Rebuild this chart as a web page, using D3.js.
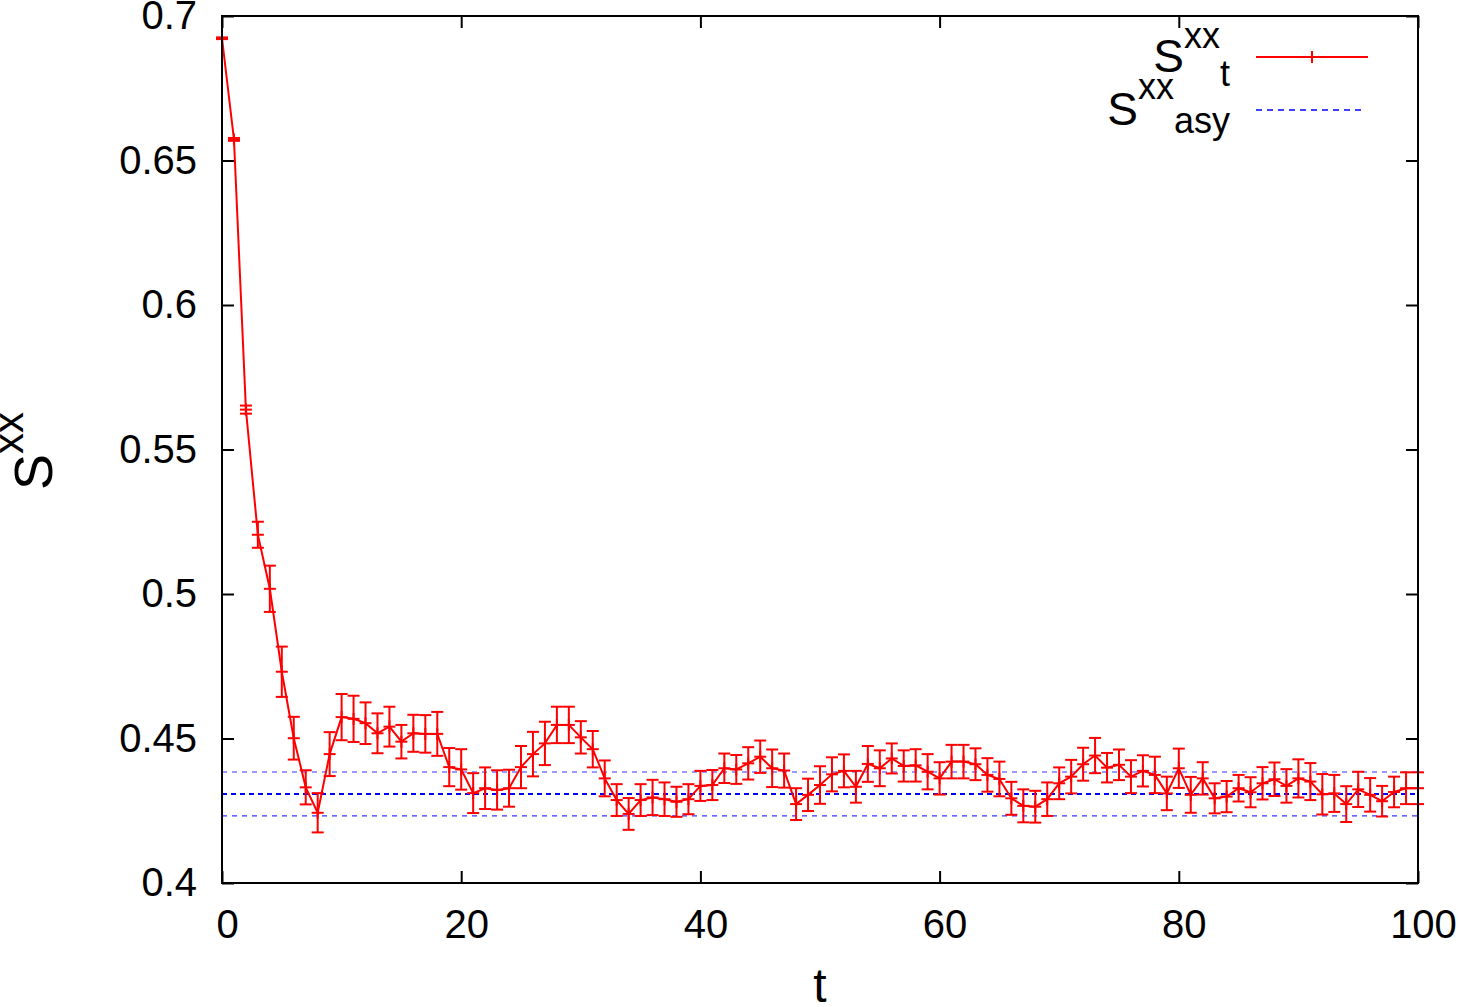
<!DOCTYPE html>
<html>
<head>
<meta charset="utf-8">
<script src="https://d3js.org/d3.v7.min.js"></script>
<style>
  body { margin: 0; background: #fff; }
  svg { display: block; font-family: "Liberation Sans", Arial, Helvetica, sans-serif; }
</style>
</head>
<body>
<script>
// S^xx_t values, t = 0..100
var tValues = d3.range(0, 101);
var sValues = [
  0.6923, 0.6573, 0.5638, 0.5205, 0.5018, 0.4731, 0.4501, 0.4331, 0.4243, 0.4446,
  0.4574, 0.4568, 0.4553, 0.4518, 0.4541, 0.4489, 0.4518, 0.4516, 0.4516, 0.4401,
  0.4393, 0.4311, 0.4328, 0.4322, 0.4328, 0.4401, 0.4446, 0.4483, 0.4547, 0.4547,
  0.4504, 0.4463, 0.4362, 0.4287, 0.4239, 0.4287, 0.4296, 0.4290, 0.4281, 0.4290,
  0.4336, 0.4339, 0.4397, 0.4393, 0.4414, 0.4437, 0.4397, 0.4389, 0.4273, 0.4305,
  0.4339, 0.4376, 0.4388, 0.4333, 0.4412, 0.4397, 0.4431, 0.4405, 0.4407, 0.4385,
  0.4362, 0.4420, 0.4420, 0.4411, 0.4374, 0.4360, 0.4293, 0.4267, 0.4264, 0.4290,
  0.4345, 0.4368, 0.4411, 0.4441, 0.4399, 0.4409, 0.4368, 0.4388, 0.4374, 0.4310,
  0.4397, 0.4305, 0.4362, 0.4293, 0.4299, 0.4328, 0.4314, 0.4345, 0.4359, 0.4336,
  0.4362, 0.4351, 0.4307, 0.4310, 0.4273, 0.4324, 0.4305, 0.4283, 0.4315, 0.4328,
  0.4328
];
var sErrors = [
  0.0003, 0.0005, 0.0014, 0.0045, 0.0080, 0.0087, 0.0074, 0.0059, 0.0068, 0.0076,
  0.0080, 0.0080, 0.0072, 0.0069, 0.0069, 0.0058, 0.0064, 0.0065, 0.0076, 0.0066,
  0.0070, 0.0069, 0.0072, 0.0068, 0.0064, 0.0073, 0.0077, 0.0075, 0.0063, 0.0063,
  0.0056, 0.0063, 0.0062, 0.0055, 0.0055, 0.0055, 0.0061, 0.0058, 0.0052, 0.0052,
  0.0052, 0.0052, 0.0051, 0.0050, 0.0056, 0.0056, 0.0065, 0.0059, 0.0055, 0.0056,
  0.0065, 0.0059, 0.0057, 0.0055, 0.0062, 0.0062, 0.0052, 0.0054, 0.0056, 0.0061,
  0.0056, 0.0058, 0.0058, 0.0055, 0.0058, 0.0060, 0.0057, 0.0057, 0.0055, 0.0058,
  0.0055, 0.0058, 0.0057, 0.0061, 0.0051, 0.0053, 0.0057, 0.0054, 0.0063, 0.0058,
  0.0068, 0.0062, 0.0056, 0.0052, 0.0054, 0.0046, 0.0052, 0.0056, 0.0058, 0.0058,
  0.0066, 0.0064, 0.0070, 0.0064, 0.0062, 0.0061, 0.0058, 0.0053, 0.0053, 0.0055,
  0.0055
];

// asymptotic value and its band
var sAsy = 0.4308;
var sAsyBand = [0.4232, 0.4384];

var xTicks = [0, 20, 40, 60, 80, 100];
var yTicks = [0.4, 0.45, 0.5, 0.55, 0.6, 0.65, 0.7];

var width = 1459, height = 1007;
var margin = { left: 222, top: 16, right: 41, bottom: 124 };
var plotW = width - margin.left - margin.right;
var plotH = height - margin.top - margin.bottom;

var svg = d3.select("body").append("svg")
  .attr("width", width)
  .attr("height", height);

var x = d3.scaleLinear().domain([0, 100]).range([0, plotW]);
var y = d3.scaleLinear().domain([0.4, 0.7]).range([plotH, 0]);

var g = svg.append("g").attr("transform", "translate(" + margin.left + "," + margin.top + ")");

// axes, ticks pointing inward, mirrored on top/right
var fmt = function(d) { return String(d); };
var axL = g.append("g").call(d3.axisLeft(y).tickValues(yTicks).tickFormat(fmt).tickSizeInner(-12).tickSizeOuter(0).tickPadding(25));
var axB = g.append("g").attr("transform", "translate(0," + plotH + ")")
  .call(d3.axisBottom(x).tickValues(xTicks).tickFormat(fmt).tickSizeInner(-12).tickSizeOuter(0).tickPadding(27));
var axR = g.append("g").attr("transform", "translate(" + plotW + ",0)")
  .call(d3.axisRight(y).tickValues(yTicks).tickFormat("").tickSizeInner(-12).tickSizeOuter(0));
var axT = g.append("g")
  .call(d3.axisTop(x).tickValues(xTicks).tickFormat("").tickSizeInner(-12).tickSizeOuter(0));

[axL, axB, axR, axT].forEach(function(a) {
  a.select(".domain").remove();
  a.selectAll("line").attr("stroke", "#000").attr("stroke-width", 2);
  a.selectAll("text").attr("font-size", 40).attr("fill", "#000")
    .style("font-family", "'Liberation Sans', Arial, sans-serif");
});
axB.selectAll("text").attr("dx", 5);

// asymptote lines
var blue = "#0000ff";
g.append("line")
  .attr("x1", 0).attr("x2", plotW)
  .attr("y1", y(sAsy)).attr("y2", y(sAsy))
  .attr("stroke", blue).attr("stroke-width", 2).attr("stroke-dasharray", "5,4");
g.selectAll(".band").data(sAsyBand).enter().append("line")
  .attr("class", "band")
  .attr("x1", 0).attr("x2", plotW)
  .attr("y1", function(d) { return y(d); }).attr("y2", function(d) { return y(d); })
  .attr("stroke", blue).attr("stroke-opacity", 0.8).attr("stroke-width", 1.2).attr("stroke-dasharray", "5,5");

// data line with error bars
var red = "#ff0000";
var data = tValues.map(function(t, i) { return { t: t, v: sValues[i], e: sErrors[i] }; });

g.append("path")
  .datum(data)
  .attr("fill", "none")
  .attr("stroke", red)
  .attr("stroke-width", 2)
  .attr("d", d3.line().x(function(d) { return x(d.t); }).y(function(d) { return y(d.v); }));

var cap = 6, mk = 6;
var pts = g.selectAll(".pt").data(data).enter().append("g").attr("class", "pt")
  .attr("stroke", red).attr("stroke-width", 2);
pts.append("line")
  .attr("x1", function(d) { return x(d.t); }).attr("x2", function(d) { return x(d.t); })
  .attr("y1", function(d) { return y(d.v - d.e); }).attr("y2", function(d) { return y(d.v + d.e); });
pts.append("line")
  .attr("x1", function(d) { return x(d.t) - cap; }).attr("x2", function(d) { return x(d.t) + cap; })
  .attr("y1", function(d) { return y(d.v - d.e); }).attr("y2", function(d) { return y(d.v - d.e); });
pts.append("line")
  .attr("x1", function(d) { return x(d.t) - cap; }).attr("x2", function(d) { return x(d.t) + cap; })
  .attr("y1", function(d) { return y(d.v + d.e); }).attr("y2", function(d) { return y(d.v + d.e); });
// + marker
pts.append("line")
  .attr("x1", function(d) { return x(d.t) - mk; }).attr("x2", function(d) { return x(d.t) + mk; })
  .attr("y1", function(d) { return y(d.v); }).attr("y2", function(d) { return y(d.v); });
pts.append("line")
  .attr("x1", function(d) { return x(d.t); }).attr("x2", function(d) { return x(d.t); })
  .attr("y1", function(d) { return y(d.v) - mk; }).attr("y2", function(d) { return y(d.v) + mk; });

// frame
g.append("rect")
  .attr("width", plotW).attr("height", plotH)
  .attr("fill", "none").attr("stroke", "#000").attr("stroke-width", 2);

// legend
var lg = svg.append("g");
var t1 = lg.append("text").attr("x", 1230).attr("y", 72).attr("text-anchor", "end");
t1.append("tspan").attr("font-size", 46).text("S");
t1.append("tspan").attr("font-size", 36).attr("dy", -24).text("xx");
t1.append("tspan").attr("font-size", 36).attr("dy", 38).text("t");
lg.append("line").attr("x1", 1256).attr("x2", 1368).attr("y1", 57).attr("y2", 57)
  .attr("stroke", red).attr("stroke-width", 2);
lg.append("line").attr("x1", 1312).attr("x2", 1312).attr("y1", 51).attr("y2", 63)
  .attr("stroke", red).attr("stroke-width", 2);

var t2 = lg.append("text").attr("x", 1230).attr("y", 125).attr("text-anchor", "end");
t2.append("tspan").attr("font-size", 46).text("S");
t2.append("tspan").attr("font-size", 36).attr("dy", -26).text("xx");
t2.append("tspan").attr("font-size", 36).attr("dy", 34).text("asy");
lg.append("line").attr("x1", 1256).attr("x2", 1365).attr("y1", 110).attr("y2", 110)
  .attr("stroke", blue).attr("stroke-width", 1.5).attr("stroke-dasharray", "6,5");

// axis titles
var yl = svg.append("text").attr("transform", "translate(52,490) rotate(-90)");
yl.append("tspan").attr("font-size", 54).text("S");
yl.append("tspan").attr("font-size", 42).attr("dy", -29).text("xx");

svg.append("text").attr("x", 820).attr("y", 1002).attr("text-anchor", "middle")
  .attr("font-size", 48).text("t");
</script>
</body>
</html>
